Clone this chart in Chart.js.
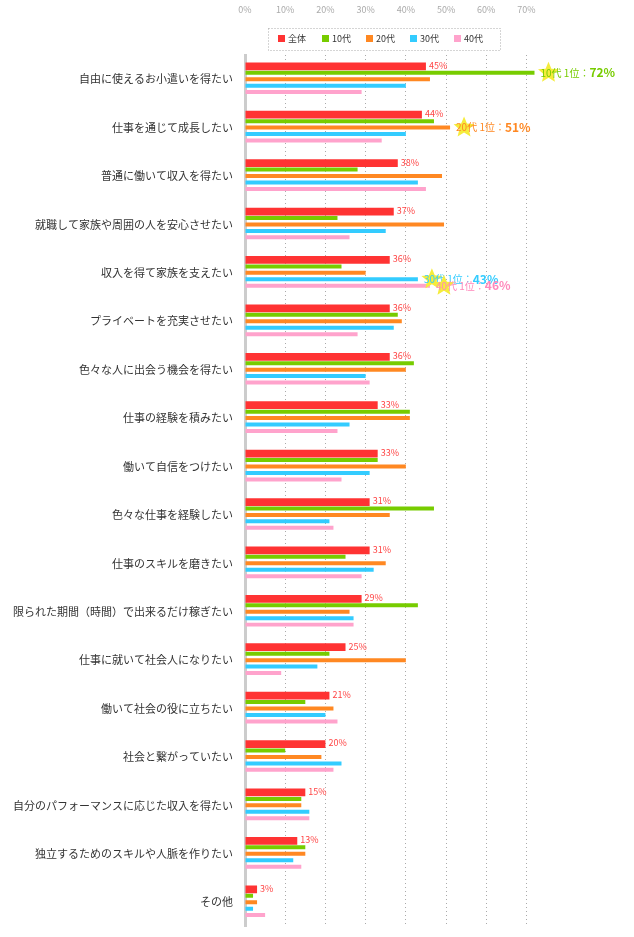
<!DOCTYPE html>
<html>
<head>
<meta charset="utf-8">
<script src="https://cdn.jsdelivr.net/npm/chart.js@4"></script>
<style>
  body { margin: 0; background: #fff; }
  #wrap { width: 634px; height: 937px; }
</style>
</head>
<body>
<div id="wrap"><canvas id="myChart"></canvas></div>
<script>
const categories = ['自由に使えるお小遣いを得たい', '仕事を通じて成長したい', '普通に働いて収入を得たい',
  '就職して家族や周囲の人を安心させたい', '収入を得て家族を支えたい', 'プライベートを充実させたい',
  '色々な人に出会う機会を得たい', '仕事の経験を積みたい', '働いて自信をつけたい', '色々な仕事を経験したい',
  '仕事のスキルを磨きたい', '限られた期間（時間）で出来るだけ稼ぎたい', '仕事に就いて社会人になりたい',
  '働いて社会の役に立ちたい', '社会と繋がっていたい', '自分のパフォーマンスに応じた収入を得たい',
  '独立するためのスキルや人脈を作りたい', 'その他'];
const seriesNames = ['全体', '10代', '20代', '30代', '40代'];
const all   = [45, 44, 38, 37, 36, 36, 36, 33, 33, 31, 31, 29, 25, 21, 20, 15, 13, 3];
const teens = [72, 47, 28, 23, 24, 38, 42, 41, 33, 47, 25, 43, 21, 15, 10, 14, 15, 2];
const twenties = [46, 51, 49, 49.5, 30, 39, 40, 41, 40, 36, 35, 26, 40, 22, 19, 14, 15, 3];
const thirties = [40, 40, 43, 35, 43, 37, 30, 26, 31, 21, 32, 27, 18, 20, 24, 16, 12, 2];
const forties  = [29, 34, 45, 26, 46, 28, 31, 23, 24, 22, 29, 27, 9, 23, 22, 16, 14, 5];
const xTicks = [0, 10, 20, 30, 40, 50, 60, 70];
const colors = ['#ff3333', '#77cc00', '#ff8822', '#33ccff', '#ffa3cc'];
// [dataset, category, label]
const callouts = [[1, 0, '10代 1位：', '72%'], [2, 1, '20代 1位：', '51%'], [3, 4, '30代 1位：', '43%'], [4, 4, '40代 1位：', '46%']];

const FONT = '"Noto Sans CJK JP", sans-serif';

function star(ctx, x, y, r) {
  ctx.beginPath();
  for (let i = 0; i < 10; i++) {
    const rr = i % 2 ? r * 0.45 : r;
    const a = -Math.PI / 2 + i * Math.PI / 5;
    ctx.lineTo(x + rr * Math.cos(a), y + rr * Math.sin(a));
  }
  ctx.closePath();
  ctx.fillStyle = '#f5ec3c';
  ctx.fill();
}

const extras = {
  id: 'extras',
  afterDatasetsDraw(chart) {
    const ctx = chart.ctx;
    ctx.save();
    // value labels of 全体
    const m0 = chart.getDatasetMeta(0);
    ctx.font = '9px ' + FONT;
    ctx.fillStyle = '#ff4444';
    ctx.textBaseline = 'middle';
    ctx.textAlign = 'left';
    m0.data.forEach((b, i) => ctx.fillText(all[i] + '%', b.x + 3, b.y - 1));
    // callouts
    callouts.forEach(([d, c, t1, t2]) => {
      const b = chart.getDatasetMeta(d).data[c];
      const x = b.x + 4, y = b.y;
      star(ctx, x + 10, y, 11);
      ctx.fillStyle = colors[d] === '#ffa3cc' ? '#ff88bb' : colors[d];
      ctx.font = '10px ' + FONT;
      ctx.fillText(t1, x + 2, y);
      const w = ctx.measureText(t1).width;
      ctx.font = 'bold 12px ' + FONT;
      ctx.fillText(t2, x + 2 + w, y);
    });
    // legend box
    const lx = 268, ly = 28, lw = 232, lh = 22;
    ctx.fillStyle = '#fff';
    ctx.fillRect(lx, ly, lw, lh);
    ctx.strokeStyle = '#aaa';
    ctx.setLineDash([1, 2]);
    ctx.strokeRect(lx + 0.5, ly + 0.5, lw, lh);
    ctx.setLineDash([]);
    ctx.font = '9px ' + FONT;
    seriesNames.forEach((n, i) => {
      const x = lx + 10 + i * 44;
      ctx.fillStyle = colors[i];
      ctx.fillRect(x, ly + 7, 7, 7);
      ctx.fillStyle = '#333';
      ctx.fillText(n, x + 10, ly + 11);
    });
    ctx.restore();
  }
};

new Chart(document.getElementById('myChart'), {
  type: 'bar',
  data: {
    labels: categories,
    datasets: [all, teens, twenties, thirties, forties].map((d, i) => ({
      label: seriesNames[i],
      data: d,
      backgroundColor: colors[i],
      barPercentage: i === 0 ? 1.2 : 0.62
    }))
  },
  options: {
    indexAxis: 'y',
    responsive: true,
    maintainAspectRatio: false,
    animation: false,
    layout: { padding: { right: 1, bottom: 3 } },
    datasets: { bar: { categoryPercentage: 0.666 } },
    plugins: { legend: { display: false }, tooltip: { enabled: false } },
    scales: {
      x: {
        position: 'top',
        min: 0, max: 96.5,
        afterBuildTicks: s => { s.ticks = xTicks.map(v => ({ value: v })); },
        afterFit: s => { s.height = 55; },
        ticks: { color: '#aaa', font: { size: 9, family: FONT }, callback: v => v + '%', padding: 40 },
        grid: { color: '#aaa', drawTicks: false, tickLength: 0 },
        border: { display: false, dash: [1, 3] }
      },
      y: {
        afterFit: s => { s.width = 245; },
        ticks: { color: '#333', font: { size: 11, family: FONT }, padding: 4 },
        grid: { display: false },
        border: { color: '#ccc', width: 3 }
      }
    }
  },
  plugins: [extras]
});
</script>
</body>
</html>
